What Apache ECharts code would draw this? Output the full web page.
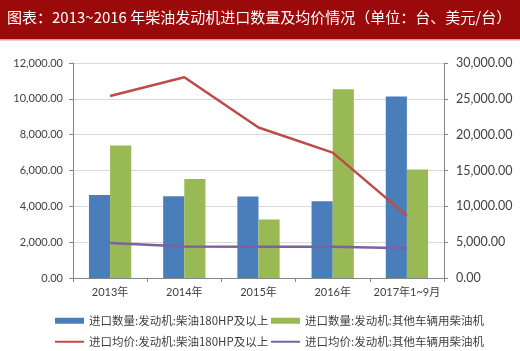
<!DOCTYPE html>
<html lang="zh-CN">
<head>
<meta charset="UTF-8" />
<script src="https://cdn.jsdelivr.net/npm/echarts@6/dist/echarts.min.js"></script>
<style>
html,body{margin:0;padding:0;background:#fff;}
#main{width:520px;height:351px;}
</style>
</head>
<body>
<div id="main"></div>
<script type="text/javascript">
// 数据
var years = ['2013年', '2014年', '2015年', '2016年', '2017年1~9月'];
var qty180 = [4630, 4560, 4550, 4280, 10130];      // 进口数量:柴油180HP及以上
var qtyOther = [7390, 5520, 3270, 10530, 6060];    // 进口数量:其他车辆用柴油机
var price180 = [25400, 28000, 21000, 17500, 8700]; // 进口均价:柴油180HP及以上
var priceOther = [4900, 4380, 4360, 4350, 4150];   // 进口均价:其他车辆用柴油机
var names = [
	'进口数量:发动机:柴油180HP及以上',
	'进口数量:发动机:其他车辆用柴油机',
	'进口均价:发动机:柴油180HP及以上',
	'进口均价:发动机:其他车辆用柴油机'
];
var colors = ['#4a7ebb', '#98b954', '#be4b48', '#7d60a0'];

function fmt(v){
	return v.toLocaleString('en-US', {minimumFractionDigits:2, maximumFractionDigits:2});
}

var font = 'Lato, "Noto Sans CJK SC", sans-serif';
var legText = {color:'#404040', fontSize:11.5, fontFamily:'"Noto Sans CJK SC", sans-serif'};

function leg(i, left, top, h){
	return {
		data:[{name:names[i], icon:'rect'}],
		left:left, top:top,
		itemWidth:29, itemHeight:h,
		itemGap:0, padding:0,
		textStyle:legText,
		selectedMode:false
	};
}

var chart = echarts.init(document.getElementById('main'));
chart.setOption({
	animation:false,
	backgroundColor:'#fff',
	title:{
		text:'图表：2013~2016 年柴油发动机进口数量及均价情况（单位：台、美元/台）',
		left:7, top:10, padding:0,
		textStyle:{color:'#fff', fontSize:15, fontWeight:'normal', fontFamily:'"Noto Sans CJK SC", serif'}
	},
	graphic:[
		{type:'rect', z:-1, shape:{x:0, y:0, width:520, height:39}, style:{fill:'#9b0a0a'}},
		{type:'rect', z:-1, shape:{x:0, y:39, width:520, height:1.5}, style:{fill:'#d99a9a'}}
	],
	legend:[
		leg(0, 55, 315, 6),
		leg(1, 271, 315, 6),
		leg(2, 55, 336, 2),
		leg(3, 271, 336, 2)
	],
	grid:{left:73, right:76, top:63, bottom:73},
	xAxis:{
		type:'category',
		data:years,
		axisLine:{lineStyle:{color:'#868686'}},
		axisTick:{show:true, length:4, lineStyle:{color:'#868686'}},
		axisLabel:{color:'#404040', fontSize:11, margin:9, interval:0, fontFamily:font}
	},
	yAxis:[
		{
			type:'value', min:0, max:12000, interval:2000,
			axisLine:{show:true, lineStyle:{color:'#868686'}},
			axisTick:{show:true, length:4, lineStyle:{color:'#868686'}},
			splitLine:{lineStyle:{color:'#d9d9d9'}},
			axisLabel:{color:'#404040', fontSize:11, margin:10, fontFamily:font, formatter:fmt}
		},
		{
			type:'value', min:0, max:30000, interval:5000,
			axisLine:{show:true, lineStyle:{color:'#868686'}},
			axisTick:{show:true, length:4, lineStyle:{color:'#868686'}},
			splitLine:{show:false},
			axisLabel:{color:'#404040', fontSize:12.5, margin:12, fontFamily:font, formatter:fmt}
		}
	],
	series:[
		{name:names[0], type:'bar', data:qty180, barGap:'0%', barCategoryGap:'43%', itemStyle:{color:colors[0]}},
		{name:names[1], type:'bar', data:qtyOther, itemStyle:{color:colors[1]}},
		{name:names[2], type:'line', yAxisIndex:1, data:price180, symbol:'none', lineStyle:{color:colors[2], width:2.5}, itemStyle:{color:colors[2]}},
		{name:names[3], type:'line', yAxisIndex:1, data:priceOther, symbol:'none', lineStyle:{color:colors[3], width:2.5}, itemStyle:{color:colors[3]}}
	]
});
</script>
</body>
</html>
